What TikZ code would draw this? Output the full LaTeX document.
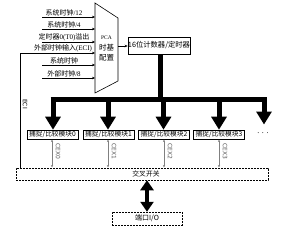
\documentclass[tikz,border=0pt]{standalone}
\usepackage{fontspec}
\setmainfont{Liberation Serif}
\setsansfont{Liberation Sans}
\newfontfamily\cjk{Noto Sans CJK SC}
\newfontfamily\lsans{DejaVu Sans}
\usetikzlibrary{arrows.meta}
\begin{document}
\begin{tikzpicture}[x=1pt,y=-1pt,
  lbl/.style={font=\fontsize{7}{7}\selectfont, inner sep=0.6pt, anchor=south},
  inarrow/.style={-{Stealth[length=3pt,width=2.6pt]}, line width=0.6pt},
  bus/.style={line width=5pt},
  busarrow/.style={line width=5pt, -{Triangle[length=13pt,width=15pt]}},
  module/.style={draw, line width=0.6pt, minimum width=51pt, minimum height=9pt, inner sep=0, font=\cjk\fontsize{6.7}{6.7}\selectfont},
  cex/.style={gray, line width=0.5pt, {Stealth[length=2.5pt,width=2.2pt]}-{Stealth[length=2.5pt,width=2.2pt]}},
  cexlbl/.style={text=gray!70!black, font=\lsans\fontsize{6}{6}\selectfont, rotate=-90, inner sep=0},
  dashbox/.style={draw, dash pattern=on 2pt off 1pt, line width=0.5pt, inner sep=0}
]
\useasboundingbox (0,0) rectangle (287,228);

% trapezoid
\coordinate (t1) at (95,3);
\coordinate (t2) at (118,18);
\coordinate (t3) at (118,81);
\coordinate (t4) at (95,93);
\draw[line width=0.6pt] (t1) -- (t2) -- (t3) -- (t4) -- cycle;
\node[font=\fontsize{5.5}{5.5}\selectfont, inner sep=0] (pca) at (106.5,38) {PCA};
\node[font=\cjk\fontsize{7.5}{7.5}\selectfont, inner sep=0] (tb) at (106.5,48) {时基};
\node[font=\cjk\fontsize{7.5}{7.5}\selectfont, inner sep=0] (pz) at (106.5,57.5) {配置};

% inputs
\foreach \n/\y/\t in {a/17/{{\cjk 系统时钟}/12}, b/29/{{\cjk 系统时钟}/4}, c/42/{{\cjk 定时器}0(T0){\cjk 溢出}}, e/65/{{\cjk 系统时钟}}, f/78/{{\cjk 外部时钟}/8}}{
  \coordinate (s\n) at (42,\y);
  \coordinate (e\n) at (95,\y);
  \draw[inarrow] (s\n) -- (e\n);
  \node[lbl] (l\n) at (64,\y) {\t};
}
\coordinate (sd) at (20,53);
\coordinate (ed) at (95,53);
\draw[inarrow] (sd) -- (ed);
\node[lbl] (ld) at (63,53) {{\cjk 外部时钟输入}(ECI)};

% counter box
\node[draw, line width=0.6pt, minimum width=60pt, minimum height=17pt, inner sep=0,
      font=\cjk\fontsize{7.3}{7.3}\selectfont] (cnt) at (159,45.5) {16位计数器/定时器};
\coordinate (tr) at (118,46);
\draw[inarrow] (tr) -- (cnt.west |- tr);

% modules
\node[module] (m0) at (52.5,134.5) {捕捉/比较模块0};
\node[module] (m1) at (108.5,134.5) {捕捉/比较模块1};
\node[module] (m2) at (164,134.5) {捕捉/比较模块2};
\node[module] (m3) at (219,134.5) {捕捉/比较模块3};
\node[font=\fontsize{8}{8}\selectfont, inner sep=0] (dots) at (263,133) {.\,\,.\,\,.};

% bus
\coordinate (bl) at (50.5,99);
\coordinate (br) at (266.5,99);
\coordinate (bc) at (160,99);
\draw[bus] (cnt.south -| bc) -- (bc);
\draw[bus] (bl) -- (br);
\coordinate (b0) at (53,99);
\coordinate (b1) at (108,99);
\coordinate (b2) at (163.5,99);
\coordinate (b3) at (219,99);
\coordinate (b4) at (264,99);
\coordinate (d4) at (264,124.5);
\draw[busarrow] (b0) -- (b0 |- m0.north);
\draw[busarrow] (b1) -- (b1 |- m1.north);
\draw[busarrow] (b2) -- (b2 |- m2.north);
\draw[busarrow] (b3) -- (b3 |- m3.north);
\draw[busarrow] (b4) -- (d4);

% cross switch
\node[dashbox, minimum width=252pt, minimum height=12pt] (sw) at (142,174) {};
\node[font=\cjk\fontsize{6.8}{6.8}\selectfont, inner sep=0] (swl) at (146,174) {交叉开关};

% ECI line
\draw[line width=0.6pt] (sd) -- (sd |- sw.north);
\node[cexlbl, text=black] (eci) at (25,104) {ECI};

% CEX lines
\foreach \i/\x in {0/52,1/108,2/164,3/219}{
  \coordinate (c\i) at (\x,139);
  \draw[cex] (\x,139.5) -- (\x,167.5);
  \node[cexlbl] (cl\i) at (\x+6,151) {CEX\i};
}

% port
\node[dashbox, minimum width=70pt, minimum height=13pt, font=\cjk\fontsize{7}{7}\selectfont] (port) at (147,218.5) {端口I/O};
\draw[line width=4pt, {Triangle[length=10pt,width=13pt]}-{Triangle[length=10pt,width=13pt]}] (sw.south -| port) -- (port.north);
\end{tikzpicture}
\end{document}
